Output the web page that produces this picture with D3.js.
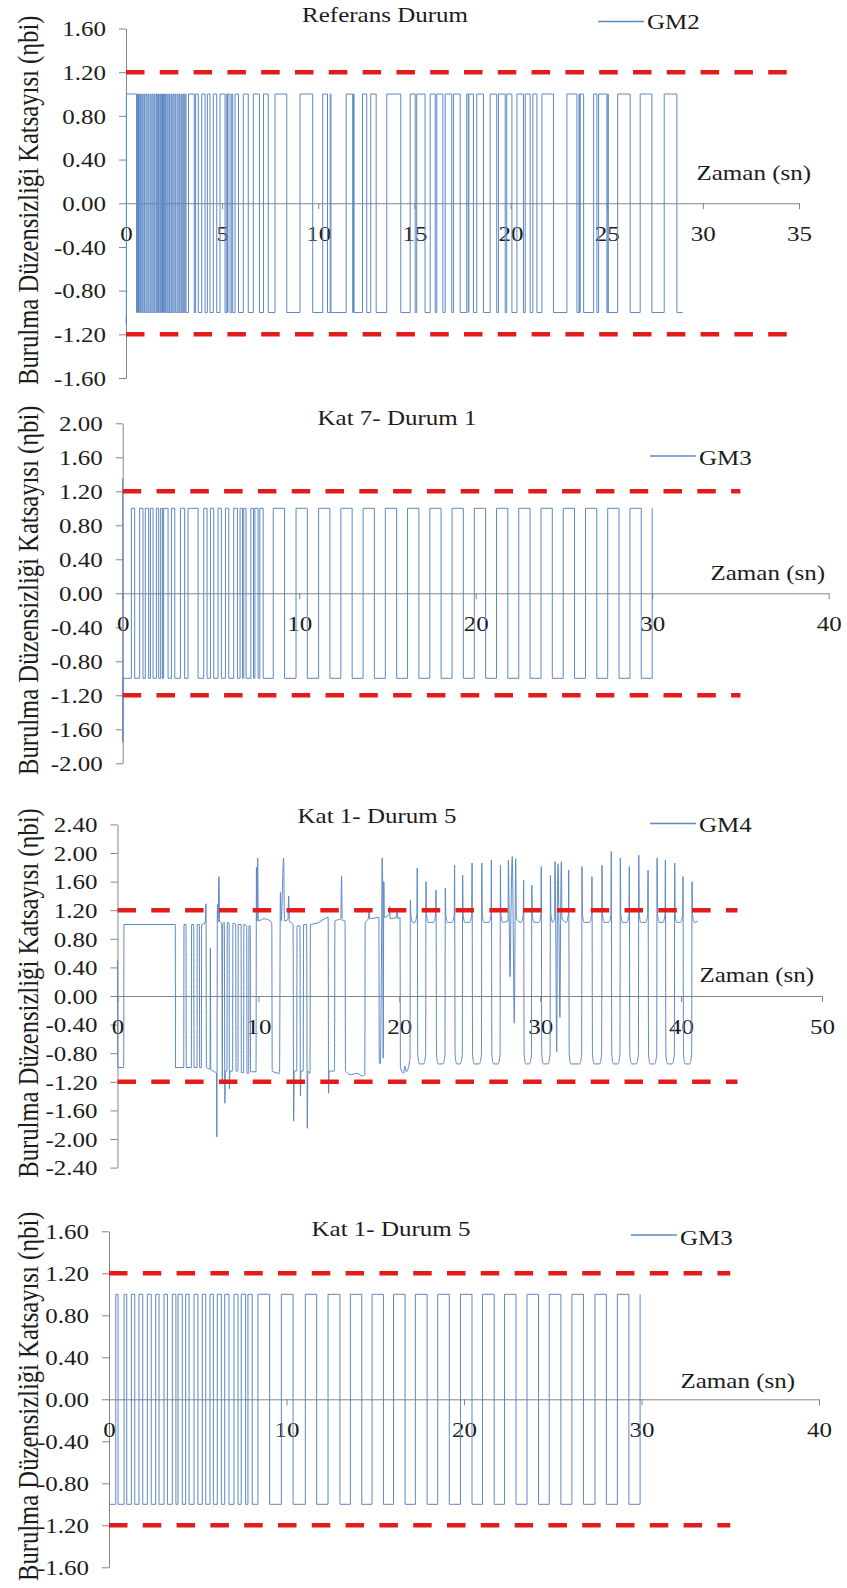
<!DOCTYPE html>
<html>
<head>
<meta charset="utf-8">
<script src="https://cdn.jsdelivr.net/npm/d3@7"></script>
<style>
  html, body { margin: 0; padding: 0; background: #ffffff; }
  svg text { font-family: "Liberation Serif", "Times New Roman", serif; fill: #1c1c1c; }
</style>
</head>
<body>
<svg id="chart" width="847" height="1588"></svg>
<script>
// ---------- data ----------
// GM2, Referans Durum: intervals (s) where the coefficient sits at +1 (otherwise -1)
const gm2Start = [[0, -1.1]];
const gm2Highs = [
  [0.02,0.55],[0.60,0.65],[0.71,0.76],[0.82,0.87],[0.93,0.97],[1.04,1.09],[1.15,1.19],[1.26,1.30],
  [1.36,1.41],[1.47,1.51],[1.58,1.63],[1.69,1.73],[1.80,1.84],[1.90,1.95],[2.01,2.05],[2.12,2.17],
  [2.23,2.27],[2.34,2.38],[2.44,2.49],[2.55,2.59],[2.66,2.71],[2.77,2.81],[2.88,2.92],[2.98,3.03],
  [3.08,3.12],
  [3.25,3.55],[3.62,3.76],[3.94,4.11],[4.23,4.37],[4.54,4.72],[4.89,5.15],[5.24,5.28],[5.30,5.41],
  [5.50,5.55],[5.67,5.85],[6.10,6.36],[6.62,6.94],[7.15,7.40],[7.75,8.36],[9.05,9.71],[10.23,10.48],
  [10.62,10.66],[11.45,11.79],[11.83,11.86],[12.30,12.52],[12.73,13.01],[13.56,14.29],[14.78,15.04],
  [15.12,15.55],[15.82,16.08],[16.16,16.48],[16.60,16.94],[17.03,17.38],[17.72,17.80],[17.83,18.07],
  [18.24,18.59],[18.94,19.28],[19.37,19.72],[19.80,20.07],[20.33,20.67],[20.76,21.02],[21.16,21.37],
  [21.63,22.23],[22.93,23.45],[23.56,23.58],[23.62,23.80],[24.32,24.49],[24.58,25.01],[25.06,25.08],
  [25.57,26.22],[26.74,27.35],[27.99,28.65]
];
const gm2End = 28.95;

// GM3, Kat 7 - Durum 1
const gm3K7Start = [[0, 1.35], [0.005, -1.75], [0.02, -1.0]];
const gm3K7Highs = [
  [0.49,0.68],[0.96,1.15],[1.28,1.47],[1.57,1.72],[1.91,2.04],[2.15,2.25],[2.32,2.57],[2.76,2.95],
  [3.27,3.51],[3.70,4.27],[4.59,4.78],[4.97,5.16],[5.40,5.59],[5.82,6.01],[6.29,6.50],[6.65,6.79],
  [6.86,6.99],[7.26,7.41],[7.49,7.67],[7.77,7.96],
  [8.53,9.17],[9.82,10.46],[11.10,11.74],[12.36,13.00],[13.62,14.26],[14.88,15.52],[16.14,16.78],
  [17.40,18.04],[18.66,19.30],[19.92,20.56],[21.18,21.82],[22.44,23.08],[23.70,24.34],[24.96,25.60],
  [26.22,26.86],[27.48,28.12],[28.74,29.38],[30.00,30.00]
];
const gm3K7End = 30.0;

// GM4, Kat 1 - Durum 5: irregular opening part as (t, value) samples
const gm4Lead = [
  [0,0.50],[0.02,-1.00],[0.44,-1.00],[0.46,1.00],[4.10,1.00],[4.12,-1.00],
  [4.70,-1.00],[4.72,1.00],[4.86,1.00],[4.88,-1.00],
  [5.24,-1.00],[5.26,1.00],[5.41,1.00],[5.43,-1.00],
  [5.64,-1.00],[5.66,1.00],[5.81,1.00],[5.83,-1.00],
  [5.95,-1.00],[5.97,1.00],[6.22,1.02],[6.28,1.29],[6.31,-1.00],
  [6.57,-1.02],[6.59,0.67],[6.62,-1.03],
  [6.90,-1.06],[7.02,-1.08],[7.05,-1.97],[7.09,1.28],[7.14,1.04],[7.20,1.67],[7.25,1.04],
  [7.40,1.02],[7.44,-1.22],[7.47,1.00],[7.58,1.03],[7.62,-1.50],[7.66,-1.05],
  [7.77,-1.05],[7.79,1.03],[7.92,1.02],[7.94,-1.30],[7.98,-1.05],
  [8.17,-1.05],[8.19,1.02],[8.39,1.00],[8.41,-1.05],
  [8.55,-1.05],[8.57,1.00],[8.77,1.00],[8.79,-1.07],
  [8.95,-1.07],[8.97,1.00],[9.17,0.98],[9.19,-1.08],
  [9.31,-1.08],[9.33,0.98],[9.42,0.98],[9.44,-1.06],
  [9.83,-1.06],[9.86,1.80],[9.90,1.05],[9.95,1.93],[9.99,1.05],
  [10.40,1.08],[10.90,1.04],[10.95,1.00],[10.98,-1.05],
  [11.50,-1.08],[11.56,1.45],[11.62,1.05],[11.79,1.93],[11.85,1.05],
  [12.10,1.07],[12.15,1.40],[12.20,1.05],[12.46,1.00],
  [12.50,-1.75],[12.55,-1.05],[12.72,-1.05],[12.74,0.98],[12.95,0.98],
  [12.98,-1.40],[13.02,-1.05],[13.18,-1.05],[13.21,1.00],[13.42,1.00],
  [13.47,-1.85],[13.51,-1.05],[13.66,-1.08],[13.69,1.00],
  [14.20,1.02],[14.70,1.08],[14.95,1.10],[14.98,-1.36],[15.02,-1.05],
  [15.40,-1.05],[15.43,1.05],[15.85,1.08],[15.90,1.68],[15.95,1.06],[16.15,1.05],
  [16.18,-1.05],[16.60,-1.10],[17.00,-1.08],[17.40,-1.12],[17.55,-1.10],
  [17.58,1.02],[17.80,1.08],[17.85,1.22],[17.90,1.08],[18.55,1.10],
  [18.58,-0.90],[18.65,-0.95],[18.75,1.00],[18.78,1.93],[18.82,1.55],
  [18.86,-0.87],[18.90,1.60],[18.94,1.10],[19.30,1.15],[19.32,1.25],[19.35,1.08],
  [19.80,1.10],[19.85,1.22],[19.90,1.08],[20.05,1.10],[20.08,-1.00],
  [20.30,-1.08],[20.40,-0.98],[20.50,-1.06],[20.74,-0.90]
];
// GM4: later sign changes (s) and the overshoot peak read at each one (rising first)
const gm4Edges = [
  [20.76,1.34],[21.25,1.79],[21.87,1.60],[22.58,1.48],[23.24,1.51],[23.90,1.83],[24.47,1.69],
  [25.14,1.86],[25.83,1.86],[26.51,1.90],[27.15,1.83],[28.80,1.62],[29.38,1.55],[30.05,1.81],
  [30.70,1.69],[32.00,1.76],[32.94,1.81],[33.65,1.67],[34.36,1.83],[35.02,2.02],[35.66,1.93],
  [36.30,1.81],[36.97,1.97],[37.63,1.76],[38.27,1.93],[38.86,1.90],[39.52,1.86],[40.11,1.67],
  [40.75,1.60]
];
// GM4: short bursts inside two of the positive stretches
const gm4Bursts = [
  [27.72,1.05],[27.74,1.90],[27.80,1.05],[27.86,0.27],[27.92,1.10],[28.02,1.95],[28.08,1.05],
  [28.16,-0.38],[28.22,1.00],[28.26,1.92],[28.31,1.08],
  [31.02,1.10],[31.05,1.88],[31.10,1.05],[31.17,-0.78],[31.22,1.20],[31.27,1.85],[31.33,1.00],
  [31.40,-0.30],[31.45,1.10],[31.50,1.88],[31.55,1.08]
];
// GM4 plateau shape: value next to a sign change, value in the middle
const gm4HighLevel = [1.14, 1.03];
const gm4LowLevel = [-0.82, -0.95];
const gm4End = [41.2, 1.05];

// GM3, Kat 1 - Durum 5
const gm3K1Start = [[0, -1.0]];
const gm3K1Highs = [
  [0.38,0.51],[0.85,1.00],[1.26,1.45],[1.69,1.90],[2.16,2.38],[2.63,2.82],[3.10,3.29],[3.57,3.77],
  [3.89,4.13],[4.32,4.51],[4.79,5.01],[5.26,5.45],[5.69,5.88],[6.10,6.33],[6.52,6.76],[7.04,7.27],
  [7.45,7.70],[7.83,8.07],
  [8.39,9.05],[9.71,10.37],[11.06,11.70],[12.34,13.01],[13.60,14.24],[14.82,15.46],[16.03,16.68],
  [17.26,17.92],[18.52,19.17],[19.80,20.45],[21.04,21.70],[22.28,22.93],[23.55,24.20],[24.80,25.46],
  [26.08,26.73],[27.38,28.02],[28.64,29.29],[29.92,29.92]
];
const gm3K1End = 29.92;

// square-wave levels and limit lines
const waveLevels = [-1.0, 1.0];
const limitValues = [1.2, -1.2];

// axis ticks
const ticksY16 = [-1.6, -1.2, -0.8, -0.4, 0, 0.4, 0.8, 1.2, 1.6];
const ticksY20 = [-2.0, -1.6, -1.2, -0.8, -0.4, 0, 0.4, 0.8, 1.2, 1.6, 2.0];
const ticksY24 = [-2.4, -2.0, -1.6, -1.2, -0.8, -0.4, 0, 0.4, 0.8, 1.2, 1.6, 2.0, 2.4];
const ticksX35 = [0, 5, 10, 15, 20, 25, 30, 35];
const ticksX40 = [0, 10, 20, 30, 40];
const ticksX50 = [0, 10, 20, 30, 40, 50];

const titles = ["Referans Durum", "Kat 7- Durum 1", "Kat 1- Durum 5", "Kat 1- Durum 5"];
const seriesNames = ["GM2", "GM3", "GM4", "GM3"];
const limitEnds = [35, 35, 44, 35];
const yAxisTitle = "Burulma Düzensizliği Katsayısı (ηbi)";
const xAxisTitle = "Zaman (sn)";

// ---------- point builders ----------
function squareWave(start, highs, endT) {
  const [lo, hi] = waveLevels;
  const pts = start.slice();
  highs.forEach(([s, e]) => {
    pts.push([s, lo], [s, hi]);
    if (e < endT) pts.push([e, hi], [e, lo]);
  });
  const last = highs[highs.length - 1];
  if (last[1] < endT) pts.push([endT, lo]);
  return pts;
}

function surgeWave(lead, edges, bursts, end) {
  const pts = lead.slice();
  edges.forEach(([t, peak], i) => {
    const rising = i % 2 === 0;
    const from = rising ? gm4LowLevel : gm4HighLevel;
    const to = rising ? gm4HighLevel : gm4LowLevel;
    pts.push([t, from[0]], [t + 0.025, peak], [t + 0.06, to[0]], [t + 0.18, to[1]]);
    if (i + 1 < edges.length) {
      pts.push([edges[i + 1][0] - 0.15, to[1]]);
    } else {
      pts.push(end);
    }
  });
  return pts.concat(bursts).sort((a, b) => a[0] - b[0]);
}

// ---------- layout ----------
const SY = 0.85;          // vertical squeeze of the serif glyphs
const FONT = 25;
const BLUE = "#5d88c3";
const RED = "#e21b1b";
const AXIS = "#858585";

const panels = [
  { points: squareWave(gm2Start, gm2Highs, gm2End), curve: d3.curveLinear,
    xMax: 35, xTicks: ticksX35, yMax: 1.6, yTicks: ticksY16,
    left: 126, right: 799, top: 28.5, bottom: 378,
    titleX: 385, titleY: 22, legX: 598, legY: 21.5, legTextY: 29,
    xTitleX: 811, xTitleY: 180 },
  { points: squareWave(gm3K7Start, gm3K7Highs, gm3K7End), curve: d3.curveLinear,
    xMax: 40, xTicks: ticksX40, yMax: 2.0, yTicks: ticksY20,
    left: 122.7, right: 828.7, top: 423.3, bottom: 763.3,
    titleX: 397, titleY: 425, legX: 650, legY: 456, legTextY: 465,
    xTitleX: 825, xTitleY: 580 },
  { points: surgeWave(gm4Lead, gm4Edges, gm4Bursts, gm4End), curve: d3.curveMonotoneX,
    xMax: 50, xTicks: ticksX50, yMax: 2.4, yTicks: ticksY24,
    left: 117.5, right: 822, top: 824.4, bottom: 1167.6,
    titleX: 377, titleY: 823, legX: 650, legY: 823.5, legTextY: 831.5,
    xTitleX: 814, xTitleY: 982 },
  { points: squareWave(gm3K1Start, gm3K1Highs, gm3K1End), curve: d3.curveLinear,
    xMax: 40, xTicks: ticksX40, yMax: 1.6, yTicks: ticksY16,
    left: 109, right: 819, top: 1231.3, bottom: 1567.3,
    titleX: 391, titleY: 1236, legX: 631, legY: 1235, legTextY: 1245,
    xTitleX: 795, xTitleY: 1388 }
];

const svg = d3.select("#chart");
const fmtY = v => d3.format(".2f")(v).replace("\u2212", "-");

function addText(g, x, y, str, anchor) {
  return g.append("text")
    .attr("transform", `translate(${x},${y}) scale(1,${SY})`)
    .attr("text-anchor", anchor)
    .style("font-size", FONT + "px")
    .text(str);
}

panels.forEach((p, i) => {
  const g = svg.append("g");
  const x = d3.scaleLinear().domain([0, p.xMax]).range([p.left, p.right]);
  const y = d3.scaleLinear().domain([-p.yMax, p.yMax]).range([p.bottom, p.top]);

  // vertical axis
  const ya = g.append("g")
    .attr("transform", `translate(${p.left},0)`)
    .call(d3.axisLeft(y).tickValues(p.yTicks).tickSize(7).tickSizeOuter(0).tickFormat(fmtY));
  ya.selectAll("path, line").attr("stroke", AXIS);
  ya.selectAll("text")
    .attr("x", null).attr("dy", null)
    .attr("transform", `translate(-20,0) scale(1,${SY})`)
    .attr("dominant-baseline", "central")
    .style("font-size", FONT + "px")
    .style("font-family", null);

  // horizontal axis through zero
  const xa = g.append("g")
    .attr("transform", `translate(0,${y(0)})`)
    .call(d3.axisBottom(x).tickValues(p.xTicks).tickSize(6).tickSizeOuter(0).tickFormat(d3.format("d")));
  xa.selectAll("path, line").attr("stroke", AXIS);
  xa.selectAll("text")
    .attr("y", null).attr("dy", null)
    .attr("transform", `translate(0,38) scale(1,${SY})`)
    .style("font-size", FONT + "px")
    .style("font-family", null);
  g.selectAll(".domain").attr("stroke-width", 1);

  // series
  const line = d3.line().x(d => x(d[0])).y(d => y(d[1])).curve(p.curve);
  g.append("path")
    .datum(p.points)
    .attr("d", line)
    .attr("fill", "none")
    .attr("stroke", BLUE)
    .attr("stroke-width", 1)
    .attr("stroke-linejoin", "round");

  // limit lines
  limitValues.forEach(v => {
    g.append("path")
      .datum([[0, v], [limitEnds[i], v]])
      .attr("d", d3.line().x(d => x(d[0])).y(d => y(d[1])))
      .attr("fill", "none")
      .attr("stroke", RED)
      .attr("stroke-width", 4.6)
      .attr("stroke-dasharray", "18.5,15.3");
  });

  // titles
  addText(g, p.titleX, p.titleY, titles[i], "middle");
  addText(g, p.xTitleX, p.xTitleY, xAxisTitle, "end");
  g.append("text")
    .attr("transform", `translate(28,${y(0) - 3}) rotate(-90) scale(${SY},1)`)
    .attr("text-anchor", "middle")
    .attr("dominant-baseline", "central")
    .style("font-size", "29px")
    .text(yAxisTitle);

  // legend
  g.append("line")
    .attr("x1", p.legX).attr("x2", p.legX + 46)
    .attr("y1", p.legY).attr("y2", p.legY)
    .attr("stroke", BLUE).attr("stroke-width", 1.3);
  addText(g, p.legX + 49, p.legTextY, seriesNames[i], "start");
});
</script>
</body>
</html>
